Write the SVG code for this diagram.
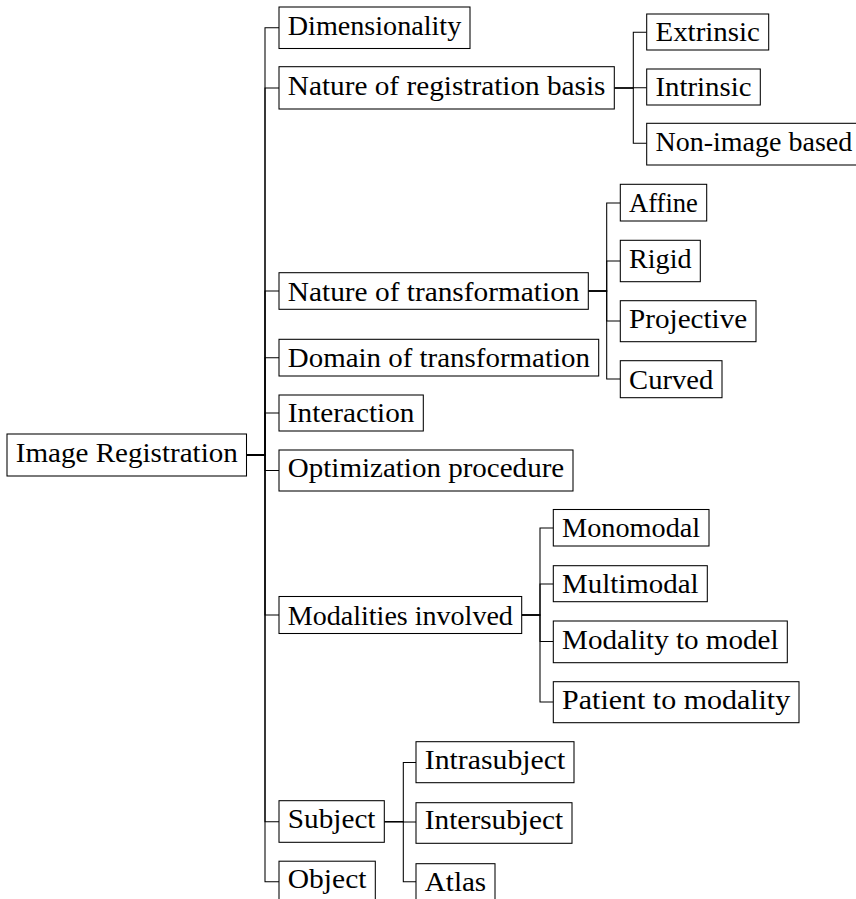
<svg xmlns="http://www.w3.org/2000/svg" width="856" height="899" viewBox="0 0 856 899">
<style>
.n rect{fill:#fff;stroke:#000;stroke-width:1.05}
.n text{font-family:"Liberation Serif","Times New Roman",serif;font-size:27px;fill:#000}
#edges path{fill:none;stroke:#000;stroke-width:1.05}
</style>
<rect width="856" height="899" fill="#fff"/>
<g id="edges">
<path d="M246.5,455 H265 V27.8 H279"/>
<path d="M246.5,455 H265 V88 H279"/>
<path d="M246.5,455 H265 V291 H279"/>
<path d="M246.5,455 H265 V357.7 H279"/>
<path d="M246.5,455 H265 V413 H279"/>
<path d="M246.5,455 H265 V470.5 H279"/>
<path d="M246.5,455 H265 V615 H279"/>
<path d="M246.5,455 H265 V821.7 H279"/>
<path d="M246.5,455 H265 V881.7 H279"/>
<path d="M614.3,88 H633.3 V32.3 H646.7"/>
<path d="M614.3,88 H633.3 V87.7 H646.7"/>
<path d="M614.3,88 H633.3 V143.3 H646.7"/>
<path d="M588.3,291 H606.7 V203 H620.3"/>
<path d="M588.3,291 H606.7 V261 H620.3"/>
<path d="M588.3,291 H606.7 V321 H620.3"/>
<path d="M588.3,291 H606.7 V379 H620.3"/>
<path d="M521.7,615 H540 V528 H553.3"/>
<path d="M521.7,615 H540 V584 H553.3"/>
<path d="M521.7,615 H540 V641.5 H553.3"/>
<path d="M521.7,615 H540 V702 H553.3"/>
<path d="M384.3,821.7 H403.3 V762.5 H416"/>
<path d="M384.3,821.7 H403.3 V822 H416"/>
<path d="M384.3,821.7 H403.3 V881.7 H416"/>
</g>
<g id="root" class="n"><rect x="7" y="434" width="239.5" height="42"/><text x="15.8" y="462" textLength="222" lengthAdjust="spacingAndGlyphs">Image Registration</text></g>
<g id="dimensionality" class="n"><rect x="279" y="7" width="191" height="41.5"/><text x="287.8" y="34.5" textLength="173.4" lengthAdjust="spacingAndGlyphs">Dimensionality</text></g>
<g id="registration-basis" class="n"><rect x="279" y="66.7" width="335.3" height="42.3"/><text x="287.8" y="95.1" textLength="317.7" lengthAdjust="spacingAndGlyphs">Nature of registration basis</text></g>
<g id="extrinsic" class="n"><rect x="646.7" y="14" width="122" height="36"/><text x="655.5" y="41.2" textLength="104.4" lengthAdjust="spacingAndGlyphs">Extrinsic</text></g>
<g id="intrinsic" class="n"><rect x="646.7" y="69" width="113.6" height="36"/><text x="655.5" y="96.2" textLength="96" lengthAdjust="spacingAndGlyphs">Intrinsic</text></g>
<g id="non-image" class="n"><rect x="646.7" y="123.3" width="214.3" height="41.7"/><text x="655.5" y="151.1" textLength="196.7" lengthAdjust="spacingAndGlyphs">Non-image based</text></g>
<g id="nature-transformation" class="n"><rect x="279" y="272.7" width="309.3" height="36.6"/><text x="287.8" y="300.5" textLength="291.7" lengthAdjust="spacingAndGlyphs">Nature of transformation</text></g>
<g id="affine" class="n"><rect x="620.3" y="184.3" width="86.4" height="36.7"/><text x="629.1" y="212.2" textLength="68.8" lengthAdjust="spacingAndGlyphs">Affine</text></g>
<g id="rigid" class="n"><rect x="620.3" y="240.3" width="80" height="41.4"/><text x="629.1" y="267.8" textLength="62.4" lengthAdjust="spacingAndGlyphs">Rigid</text></g>
<g id="projective" class="n"><rect x="620.3" y="300.7" width="135.7" height="41"/><text x="629.1" y="327.8" textLength="118.1" lengthAdjust="spacingAndGlyphs">Projective</text></g>
<g id="curved" class="n"><rect x="620.3" y="360.7" width="101.7" height="37"/><text x="629.1" y="388.9" textLength="84.1" lengthAdjust="spacingAndGlyphs">Curved</text></g>
<g id="domain-transformation" class="n"><rect x="279" y="339.3" width="319.7" height="36.7"/><text x="287.8" y="367.2" textLength="302.1" lengthAdjust="spacingAndGlyphs">Domain of transformation</text></g>
<g id="interaction" class="n"><rect x="279" y="395" width="144.3" height="36"/><text x="287.8" y="422.2" textLength="126.7" lengthAdjust="spacingAndGlyphs">Interaction</text></g>
<g id="optimization" class="n"><rect x="279" y="450" width="294" height="41"/><text x="287.8" y="477.1" textLength="276.4" lengthAdjust="spacingAndGlyphs">Optimization procedure</text></g>
<g id="modalities" class="n"><rect x="279" y="596.5" width="242.7" height="37"/><text x="287.8" y="624.7" textLength="225.1" lengthAdjust="spacingAndGlyphs">Modalities involved</text></g>
<g id="monomodal" class="n"><rect x="553.3" y="509.5" width="155.7" height="36.5"/><text x="562.1" y="537.2" textLength="138.1" lengthAdjust="spacingAndGlyphs">Monomodal</text></g>
<g id="multimodal" class="n"><rect x="553.3" y="565.7" width="154" height="36"/><text x="562.1" y="592.9" textLength="136.4" lengthAdjust="spacingAndGlyphs">Multimodal</text></g>
<g id="modality-model" class="n"><rect x="553.3" y="621" width="234" height="41.7"/><text x="562.1" y="648.8" textLength="216.4" lengthAdjust="spacingAndGlyphs">Modality to model</text></g>
<g id="patient-modality" class="n"><rect x="553.3" y="681.7" width="245.7" height="41"/><text x="562.1" y="708.8" textLength="228.1" lengthAdjust="spacingAndGlyphs">Patient to modality</text></g>
<g id="subject" class="n"><rect x="279" y="800.7" width="105.3" height="41.6"/><text x="287.8" y="828.4" textLength="87.7" lengthAdjust="spacingAndGlyphs">Subject</text></g>
<g id="intrasubject" class="n"><rect x="416" y="741.7" width="158" height="41"/><text x="424.8" y="768.8" textLength="140.4" lengthAdjust="spacingAndGlyphs">Intrasubject</text></g>
<g id="intersubject" class="n"><rect x="416" y="802.7" width="156" height="40.6"/><text x="424.8" y="829.4" textLength="138.4" lengthAdjust="spacingAndGlyphs">Intersubject</text></g>
<g id="atlas" class="n"><rect x="416" y="863.7" width="79" height="36"/><text x="424.8" y="890.9" textLength="61.4" lengthAdjust="spacingAndGlyphs">Atlas</text></g>
<g id="object" class="n"><rect x="279" y="861.2" width="96.3" height="41"/><text x="287.8" y="888.3" textLength="78.7" lengthAdjust="spacingAndGlyphs">Object</text></g>
</svg>
